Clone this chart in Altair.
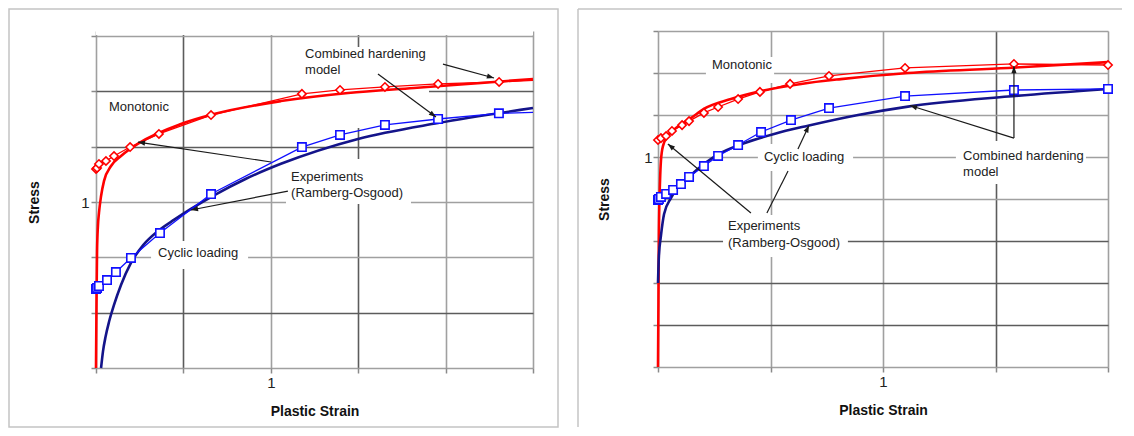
import math
import altair as alt
import pandas as pd

FONT = "Liberation Sans"
RED = "#ff0000"
NAVY = "#14148a"
BLUE = "#1010ff"
INK = "#1a1a1a"

# ---------------- left panel ----------------
L_W, L_H = 437, 337          # plot area 332 px tall, plus a 5 px blank strip on top
L_XMAX, L_YMAX = 2.5, 2.0
L_YTOP = 2.0 * 337 / 332      # scale top (blank strip above the y = 2 gridline)
L_XTICKS = [0, 0.5, 1, 1.5, 2, 2.5]
L_YTICKS = [0, 1 / 3, 2 / 3, 1, 4 / 3, 5 / 3, 2]
L_DARK_X = [0.5, 1.5]
L_DARK_Y = [1 / 3, 4 / 3, 5 / 3]

# monotonic, experiments (Ramberg-Osgood)
L_mono_exp_x = [0, 0.003, 0.006, 0.011, 0.017, 0.029, 0.046, 0.086, 0.143, 0.246, 0.486, 0.675, 1.058, 1.442, 1.819, 2.203, 2.5]
L_mono_exp_y = [0, 0.404, 0.705, 0.855, 0.934, 1.036, 1.127, 1.217, 1.277, 1.355, 1.470, 1.530, 1.608, 1.657, 1.687, 1.717, 1.741]
# monotonic, combined hardening model
L_mono_mod_x = [0, 0.006, 0.017, 0.057, 0.103, 0.195, 0.360, 0.658, 1.178, 1.396, 1.653, 1.957, 2.306]
L_mono_mod_y = [1.199, 1.205, 1.229, 1.247, 1.277, 1.331, 1.410, 1.524, 1.651, 1.675, 1.693, 1.711, 1.723]
L_mono_mod_end = (2.5, 1.733)
# cyclic loading, experiments
L_cyc_exp_x = [0.029, 0.040, 0.055, 0.075, 0.103, 0.143, 0.200, 0.270, 0.355, 0.450, 0.543, 0.675, 0.858, 1.058, 1.499, 1.957, 2.5]
L_cyc_exp_y = [0, 0.10, 0.19, 0.28, 0.38, 0.50, 0.633, 0.740, 0.825, 0.895, 0.958, 1.040, 1.140, 1.230, 1.380, 1.476, 1.566]
# cyclic loading, combined hardening model
L_cyc_mod_x = [0, 0.006, 0.017, 0.063, 0.114, 0.200, 0.366, 0.658, 1.178, 1.396, 1.653, 1.957, 2.305]
L_cyc_mod_y = [0.476, 0.482, 0.494, 0.530, 0.578, 0.663, 0.813, 1.048, 1.331, 1.404, 1.464, 1.500, 1.534]
L_cyc_mod_end = (2.5, 1.540)

L_text = ["Combined hardening", "model", "Monotonic", "Experiments", "(Ramberg-Osgood)", "Cyclic loading"]
L_text_x = [1.196, 1.196, 0.074, 1.116, 1.116, 0.355]
L_text_y = [1.892, 1.795, 1.572, 1.151, 1.054, 0.693]

L_arrow_x1 = [1.985, 1.613, 1.001, 1.098]
L_arrow_y1 = [1.831, 1.771, 1.241, 1.066]
L_arrow_x2 = [2.277, 1.945, 0.240, 0.543]
L_arrow_y2 = [1.747, 1.512, 1.361, 0.952]
L_arrow_head = [True, True, True, True]

# white backgrounds of the label boxes (plus the blank strip above the plot)
L_box_x1 = [1.173, 1.087, 0.315, 0.0]
L_box_x2 = [1.905, 1.802, 0.870, 2.5]
L_box_y1 = [1.934, 1.259, 0.765, L_YTOP]
L_box_y2 = [1.446, 0.988, 0.596, 2.0065]

# ---------------- right panel ----------------
R_W, R_H = 450, 336
R_XMAX, R_YMAX = 2.0, 1.6
R_YTOP = 1.6
R_XTICKS = [0, 0.5, 1, 1.5, 2]
R_YTICKS = [0, 0.2, 0.4, 0.6, 0.8, 1.0, 1.2, 1.4, 1.6]
R_DARK_X = [1.5]
R_DARK_Y = [0.2, 0.4, 0.6]

R_mono_exp_x = [0, 0.002, 0.004, 0.009, 0.013, 0.022, 0.044, 0.08, 0.147, 0.204, 0.324, 0.458, 0.636, 0.813, 1.111, 1.556, 2.0]
R_mono_exp_y = [0, 0.314, 0.648, 0.886, 0.981, 1.052, 1.1, 1.138, 1.186, 1.229, 1.276, 1.314, 1.348, 1.371, 1.4, 1.424, 1.452]
R_mono_mod_x = [0, 0.013, 0.036, 0.062, 0.107, 0.138, 0.204, 0.267, 0.356, 0.453, 0.587, 0.76, 1.098, 1.582, 2.0]
R_mono_mod_y = [1.081, 1.090, 1.1, 1.124, 1.152, 1.171, 1.210, 1.238, 1.276, 1.310, 1.348, 1.386, 1.424, 1.443, 1.438]
R_cyc_exp_x = [0, 0.004, 0.013, 0.027, 0.058, 0.08, 0.147, 0.267, 0.369, 0.516, 0.671, 0.889, 1.111, 1.556, 2.0]
R_cyc_exp_y = [0.4, 0.529, 0.624, 0.729, 0.805, 0.845, 0.915, 1.012, 1.060, 1.110, 1.150, 1.200, 1.240, 1.288, 1.324]
R_cyc_mod_x = [0, 0.004, 0.013, 0.036, 0.067, 0.102, 0.138, 0.204, 0.267, 0.356, 0.458, 0.591, 0.76, 1.098, 1.582, 2.0]
R_cyc_mod_y = [0.795, 0.8, 0.81, 0.824, 0.843, 0.871, 0.905, 0.957, 1.005, 1.057, 1.119, 1.176, 1.233, 1.29, 1.319, 1.324]

R_text = ["Monotonic", "Cyclic loading", "Experiments", "(Ramberg-Osgood)", "Combined hardening", "model"]
R_text_x = [0.24, 0.471, 0.311, 0.311, 1.356, 1.356]
R_text_y = [1.438, 1.0, 0.671, 0.590, 1.005, 0.929]

R_arrow_x1 = [0.413, 0.484, 0.622, 1.582, 1.582]
R_arrow_y1 = [0.733, 0.733, 1.038, 1.090, 1.090]
R_arrow_x2 = [0.044, 0.578, 0.671, 1.582, 1.12]
R_arrow_y2 = [1.062, 0.933, 1.150, 1.433, 1.245]
R_arrow_head = [True, False, True, True, True]

R_box_x1 = [0.213, 0.444, 0.289, 1.324]
R_box_x2 = [0.516, 0.867, 0.844, 1.902]
R_box_y1 = [1.476, 1.062, 0.724, 1.076]
R_box_y2 = [1.352, 0.933, 0.524, 0.871]

ARROW_PATH = "M0,0L-0.8,2.2L0.8,2.2Z"


def grid_color(dark_vals):
    test = " || ".join(f"abs(datum.value-{v:.5f})<0.001" for v in dark_vals)
    return {"condition": {"test": test, "value": "#5c5c5c"}, "value": "#a0a0a0"}


def make_panel(W, H, xmax, ytop, yplot_top_px, xticks, yticks, dark_x, dark_y, ytitle_x, ylab_pad,
               series, texts, arrows, boxes, frame_layers):
    label_expr = "abs(datum.value-1)<0.001 ? '1' : ''"
    X = alt.X("x:Q", scale=alt.Scale(domain=[0, xmax], nice=False, zero=False),
              axis=alt.Axis(values=xticks, labelExpr=label_expr, title="Plastic Strain",
                            titleFont=FONT, titleFontSize=14, titleFontWeight="bold", titleColor="#111",
                            titleY=43, titleBaseline="middle",
                            labelFont=FONT, labelFontSize=15, labelColor="#222", labelPadding=2,
                            labelFlush=False,
                            tickSize=5, tickColor="#8a8a8a", tickWidth=1.5, domain=False,
                            grid=True, gridColor=grid_color(dark_x), gridWidth=1.6))
    Y = alt.Y("y:Q", scale=alt.Scale(domain=[0, ytop], nice=False, zero=False),
              axis=alt.Axis(values=yticks, labelExpr=label_expr, title="Stress",
                            titleFont=FONT, titleFontSize=14, titleFontWeight="bold", titleColor="#111",
                            titleAngle=270, titleX=ytitle_x, titleY=(H + yplot_top_px) / 2,
                            titleAlign="center", titleBaseline="middle",
                            labelFont=FONT, labelFontSize=15, labelColor="#222", labelPadding=ylab_pad,
                            labelFlush=False,
                            tickSize=5, tickColor="#8a8a8a", tickWidth=1.5, domain=False,
                            grid=True, gridColor=grid_color(dark_y), gridWidth=1.6))
    sx, sy = W / xmax, H / ytop
    layers = []

    bx1, bx2, by1, by2 = boxes
    box_df = pd.DataFrame({"x": bx1, "x2": bx2, "y": by1, "y2": by2})
    layers.append(alt.Chart(box_df).mark_rect(color="white", opacity=1).encode(
        x=X, x2="x2:Q", y=Y, y2="y2:Q"))

    thick, thin = series
    for xs, ys, col in thick:
        df = pd.DataFrame({"x": xs, "y": ys})
        layers.append(alt.Chart(df).mark_line(color=col, strokeWidth=2.6, interpolate="monotone").encode(
            x=X, y=Y, order="x:Q"))
    for xs, ys, end, col, shape in thin:
        lx = list(xs) + ([end[0]] if end else [])
        ly = list(ys) + ([end[1]] if end else [])
        ldf = pd.DataFrame({"x": lx, "y": ly})
        layers.append(alt.Chart(ldf).mark_line(color=col, strokeWidth=1.3).encode(
            x=X, y=Y, order="x:Q"))
        mdf = pd.DataFrame({"x": xs, "y": ys})
        layers.append(alt.Chart(mdf).mark_point(shape=shape, filled=True, fill="white", stroke=col,
                                                strokeWidth=1.6, size=70, opacity=1).encode(x=X, y=Y))

    t, tx, ty = texts
    tdf = pd.DataFrame({"x": tx, "y": ty, "text": t})
    layers.append(alt.Chart(tdf).mark_text(align="left", baseline="middle", font=FONT, fontSize=13,
                                           color="#222").encode(x=X, y=Y, text="text:N"))

    ax1, ay1, ax2, ay2, ahead = arrows
    adf = pd.DataFrame({"x": ax1, "y": ay1, "x2": ax2, "y2": ay2})
    layers.append(alt.Chart(adf).mark_rule(color=INK, strokeWidth=1.2).encode(
        x=X, y=Y, x2="x2:Q", y2="y2:Q"))
    hx, hy, ha = [], [], []
    for a, b, c, d, h in zip(ax1, ay1, ax2, ay2, ahead):
        if not h:
            continue
        dx = (c - a) * sx
        dys = -(d - b) * sy
        ang = math.degrees(math.atan2(dx, -dys)) % 360
        hx.append(c)
        hy.append(d)
        ha.append(ang)
    hdf = pd.DataFrame({"x": hx, "y": hy, "ang": ha})
    layers.append(alt.Chart(hdf).mark_point(shape=ARROW_PATH, filled=True, color=INK, size=42,
                                            opacity=1).encode(
        x=X, y=Y, angle=alt.Angle("ang:Q", scale=None)))

    layers.extend(frame_layers)
    return alt.layer(*layers).properties(width=W, height=H)


one = alt.Data(values=[{"k": 1}])
FRAME = "#c4c4c4"

left_frame = [
    alt.Chart(one).mark_rect(fillOpacity=0, stroke=FRAME, strokeWidth=1.5).encode(
        x=alt.value(-87), x2=alt.value(L_W + 25), y=alt.value(-22), y2=alt.value(396))
]
right_frame = [
    alt.Chart(one).mark_rule(color=FRAME, strokeWidth=1.5).encode(
        x=alt.value(-80), x2=alt.value(R_W + 14), y=alt.value(-22)),
    alt.Chart(one).mark_rule(color=FRAME, strokeWidth=1.5).encode(
        x=alt.value(-80), y=alt.value(-22), y2=alt.value(396)),
]

left = make_panel(
    L_W, L_H, L_XMAX, L_YTOP, 5, L_XTICKS, L_YTICKS, L_DARK_X, L_DARK_Y, -62, 2,
    ([(L_mono_exp_x, L_mono_exp_y, RED), (L_cyc_exp_x, L_cyc_exp_y, NAVY)],
     [(L_mono_mod_x, L_mono_mod_y, L_mono_mod_end, RED, "diamond"),
      (L_cyc_mod_x, L_cyc_mod_y, L_cyc_mod_end, BLUE, "square")]),
    (L_text, L_text_x, L_text_y),
    (L_arrow_x1, L_arrow_y1, L_arrow_x2, L_arrow_y2, L_arrow_head),
    (L_box_x1, L_box_x2, L_box_y1, L_box_y2),
    left_frame,
)

right = make_panel(
    R_W, R_H, R_XMAX, R_YTOP, 0, R_XTICKS, R_YTICKS, R_DARK_X, R_DARK_Y, -54, 1,
    ([(R_mono_exp_x, R_mono_exp_y, RED), (R_cyc_exp_x, R_cyc_exp_y, NAVY)],
     [(R_mono_mod_x, R_mono_mod_y, None, RED, "diamond"),
      (R_cyc_mod_x, R_cyc_mod_y, None, BLUE, "square")]),
    (R_text, R_text_x, R_text_y),
    (R_arrow_x1, R_arrow_y1, R_arrow_x2, R_arrow_y2, R_arrow_head),
    (R_box_x1, R_box_x2, R_box_y1, R_box_y2),
    right_frame,
)

chart = alt.hconcat(left, right, spacing=18).properties(
    padding={"left": 0, "top": 0, "right": 0, "bottom": 0}, background="white"
).configure_view(strokeWidth=0)

chart.save("out.html", embed_options={"renderer": "svg", "actions": False})
